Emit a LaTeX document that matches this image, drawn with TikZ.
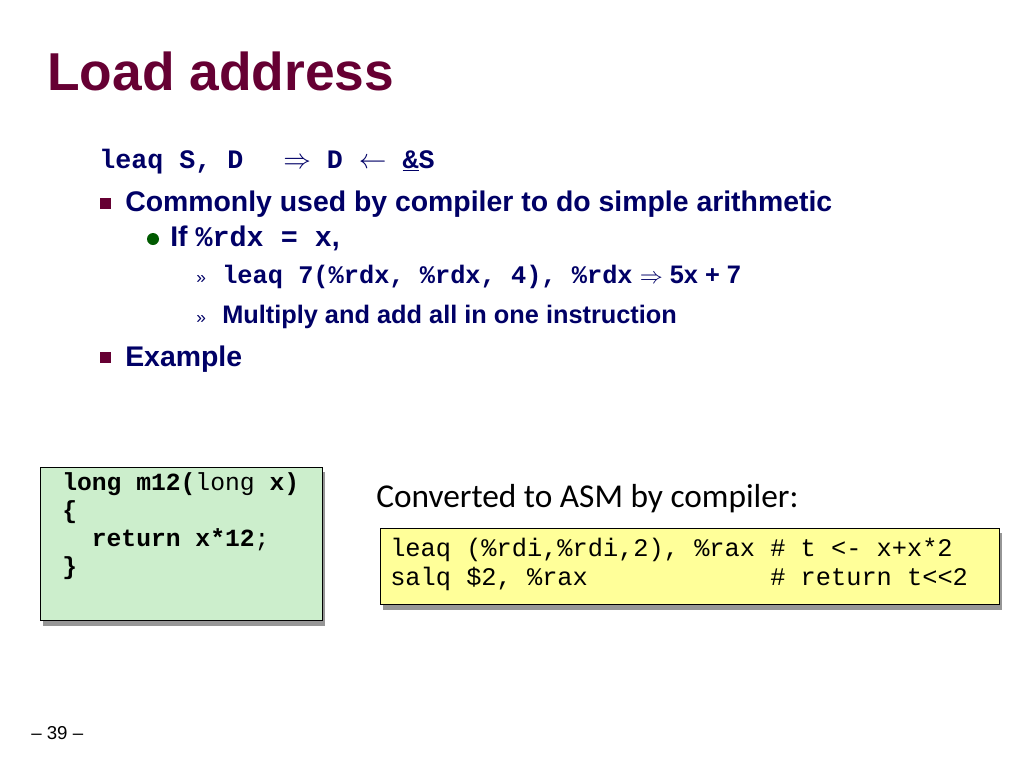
\documentclass[tikz,border=0pt]{standalone}
\usepackage{fontspec}
\setmainfont{Liberation Sans}
\setmonofont{Liberation Mono}
\newfontfamily\calfont{Carlito}
\usepackage{xcolor}
\definecolor{titlered}{RGB}{102,0,51}
\definecolor{navy}{RGB}{0,0,102}
\definecolor{bulletgreen}{RGB}{0,90,0}
\definecolor{boxgreen}{RGB}{204,238,204}
\definecolor{boxyellow}{RGB}{255,255,153}
\definecolor{shadowgray}{RGB}{150,150,150}
\tikzset{
  txt/.style={anchor=base west, inner sep=0pt, text=navy, font=\bfseries\fontsize{21.3}{25}\selectfont},
  subtxt/.style={anchor=base west, inner sep=0pt, text=navy, font=\bfseries\fontsize{19}{23}\selectfont},
  codebox/.style={draw=black, line width=0.6pt}
}
\begin{document}
\begin{tikzpicture}[x=0.75pt,y=0.75pt,yscale=-1,xscale=1]
\useasboundingbox (0,0) rectangle (1024,768);

% Title
\node [anchor=base west, inner sep=0pt, text=titlered, font=\bfseries\fontsize{40}{48}\selectfont] (title) at (47,90) {Load address};

% leaq line
\node [anchor=base west, inner sep=0pt, text=navy, font=\ttfamily\bfseries\fontsize{20}{24}\selectfont] (leaq) at (99,168) {leaq S, D\hspace{1.5em}$\Rightarrow$ D $\leftarrow$ \underline{\&}S};

% Bullets
\fill [titlered] (100,198) rectangle (111,209);
\node [txt] (common) at (125,211) {Commonly used by compiler to do simple arithmetic};
\fill [bulletgreen] (153,239) circle (6);
\node [txt] (ifrdx) at (170,246) {If \texttt{\%rdx = x},};
\node [anchor=base west, inner sep=0pt, text=navy, font=\fontsize{13}{15}\selectfont] (raq1) at (196,283) {»};
\node [subtxt] (leaqseven) at (222,283) {\texttt{leaq 7(\%rdx, \%rdx, 4), \%rdx} $\Rightarrow$ 5x + 7};
\node [anchor=base west, inner sep=0pt, text=navy, font=\fontsize{13}{15}\selectfont] (raq2) at (196,323) {»};
\node [subtxt] (multiply) at (222,323) {Multiply and add all in one instruction};
\fill [titlered] (100,352) rectangle (111,363);
\node [txt] (example) at (125,366) {Example};

% C code box
\fill [shadowgray] (43,472) rectangle (325,626);
\draw [codebox, fill=boxgreen] (40,467) rectangle (322,620);
\node [anchor=north west, inner sep=0pt, align=left, font=\ttfamily\fontsize{18.5}{21}\selectfont] (ccode) at (62,472)
  {\textbf{long m12(}long \textbf{x)}\\\textbf{\{}\\\ \ \textbf{return x*12};\\\textbf{\}}};

% Caption
\node [anchor=base west, inner sep=0pt, font=\calfont\fontsize{25}{30}\selectfont] (caption) at (376,507) {Converted to ASM by compiler:};

% ASM box
\fill [shadowgray] (383,533) rectangle (1002,610);
\draw [codebox, fill=boxyellow] (380,528) rectangle (999,604);
\node [anchor=north west, inner sep=0pt, align=left, font=\ttfamily\fontsize{19}{22}\selectfont] (asm) at (390,538)
  {leaq (\%rdi,\%rdi,2), \%rax \# t <- x+x*2\\salq \$2, \%rax\ \ \ \ \ \ \ \ \ \ \ \ \# return t<<2};

% Page number
\node [anchor=base west, inner sep=0pt, font=\fontsize{14}{16}\selectfont] (pagenum) at (31,739) {-- 39 --};
\end{tikzpicture}
\end{document}
